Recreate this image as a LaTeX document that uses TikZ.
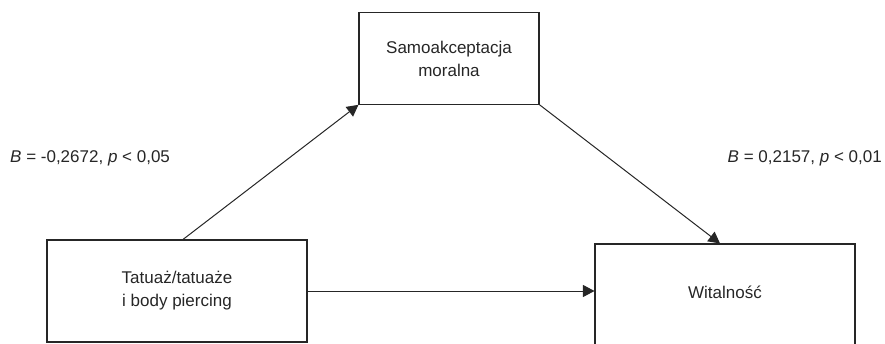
\documentclass[tikz,border=0pt]{standalone}
\usepackage{fontspec}
\setmainfont{Liberation Sans}
\usetikzlibrary{arrows.meta,calc}
\begin{document}
\begin{tikzpicture}[x=1pt,y=1pt,
  box/.style={draw=black!85,line width=1.1pt,rectangle,inner sep=0pt,align=center,
    font=\fontsize{17}{23}\selectfont,text=black!85},
  conn/.style={draw=black!85,line width=1pt,-{Triangle[length=11.5pt,width=12pt]}},
  lbl/.style={font=\fontsize{17}{23}\selectfont,text=black!85,inner sep=0pt}]
\useasboundingbox (0,0) rectangle (885,343);
\clip (0,0) rectangle (885,343);
\node[box,minimum width=180pt,minimum height=91.5pt] (mid) at (449,284.5) {Samoakceptacja\\moralna};
\node[box,minimum width=260pt,minimum height=102pt] (left) at (177,52) {Tatuaż/tatuaże\\i body piercing};
\node[box,minimum width=260pt,minimum height=102pt] (right) at (725,48) {};
\node[lbl] (wt) at (725,51) {Witalność};
\coordinate (ls) at ($(left.north)+(6,0)$);
\coordinate (re) at ($(right.north)+(-5,0)$);
\draw[conn] (ls) -- (mid.south west);
\draw[conn] (mid.south east) -- (re);
\draw[conn] (left.east) -- (left.east -| right.west);
\node[lbl,anchor=west] (lb1) at (10,185) {\textit{B} = -0,2672, \textit{p} < 0,05};
\node[lbl,anchor=east] (lb2) at (882,185) {\textit{B} = 0,2157, \textit{p} < 0,01};
\end{tikzpicture}
\end{document}
